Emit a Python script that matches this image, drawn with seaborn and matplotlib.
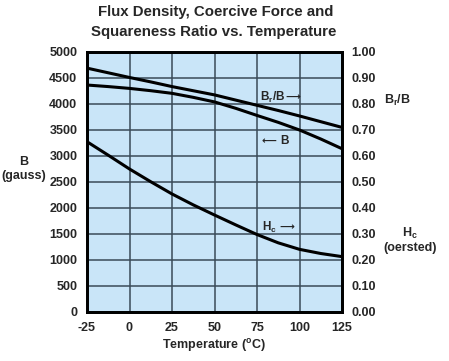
import matplotlib
matplotlib.use("Agg")
import matplotlib.pyplot as plt
import seaborn as sns
import pandas as pd

temperature = [-25, -12.5, 0, 12.5, 25, 37.5, 50, 62.5, 75, 87.5, 100, 112.5, 125]
flux_density_B = [4365, 4335, 4300, 4256, 4205, 4128, 4040, 3917, 3780, 3647, 3500, 3327, 3140]
squareness_ratio = [0.938, 0.920, 0.902, 0.885, 0.867, 0.851, 0.835, 0.815, 0.795, 0.775,
                    0.754, 0.732, 0.710]
coercive_force_Hc = [0.655, 0.603, 0.550, 0.501, 0.454, 0.412, 0.373, 0.335, 0.298, 0.266,
                     0.241, 0.225, 0.213]

left_ticks = list(range(0, 5001, 500))
right_ticks = [i / 10 for i in range(0, 11)]
x_ticks = [-25, 0, 25, 50, 75, 100, 125]

sns.set_theme(style="white")
plt.rcParams['font.family'] = ['Liberation Sans', 'DejaVu Sans']
plt.rcParams['font.weight'] = 'bold'
plt.rcParams['axes.unicode_minus'] = False
plt.rcParams['mathtext.fontset'] = 'custom'
plt.rcParams['mathtext.rm'] = 'Liberation Sans:bold'
plt.rcParams['mathtext.it'] = 'Liberation Sans:bold'
plt.rcParams['mathtext.bf'] = 'Liberation Sans:bold'
plt.rcParams['mathtext.default'] = 'rm'

W, H = 449, 361
fig = plt.figure(figsize=(W / 100, H / 100), dpi=100)
fig.patch.set_facecolor('white')
L, R, T, B = 87, 342, 52, 312
ax = fig.add_axes([L / W, 1 - B / H, (R - L) / W, (B - T) / H])
ax.set_facecolor('#c9e5f8')

df_left = pd.DataFrame({"T": temperature, "B": flux_density_B})
df_right = pd.DataFrame({
    "T": temperature * 2,
    "val": squareness_ratio + coercive_force_Hc,
    "series": ["Br/B"] * len(temperature) + ["Hc"] * len(temperature),
})

ax.set_xlim(-25, 125)
ax.set_ylim(0, 5000)
ax.set_xticks(x_ticks)
ax.set_yticks(left_ticks)
ax.grid(True, color='#3a4a58', linewidth=1.1)
ax.set_axisbelow(True)

sns.lineplot(data=df_left, x="T", y="B", ax=ax, color='black', linewidth=2.2)

ax2 = ax.twinx()
sns.lineplot(data=df_right, x="T", y="val", units="series", estimator=None,
             ax=ax2, color='black', linewidth=2.2, legend=False)
ax2.set_ylim(0, 1.0)
ax2.set_yticks(right_ticks)
ax2.set_yticklabels([f"{v:.2f}" for v in right_ticks])
ax2.grid(False)

for a in (ax, ax2):
    a.set_xlabel("")
    a.set_ylabel("")
    for s in a.spines.values():
        s.set_color('black')
        s.set_linewidth(2)

ax.tick_params(axis='both', length=0, labelsize=9)
ax.tick_params(axis='y', pad=7)
ax.tick_params(axis='x', pad=7)
ax2.tick_params(axis='y', length=0, labelsize=9, pad=7)
ax.set_xticklabels([str(v) for v in x_ticks])
for lab in ax.get_xticklabels() + ax.get_yticklabels() + ax2.get_yticklabels():
    lab.set_fontweight('bold')


def px_text(x, y, s, size=8.5, **kw):
    ax.text((x - L) / (R - L), (B - y) / (B - T), s, transform=ax.transAxes,
            fontsize=size, fontweight='bold', va='center', ha='left', **kw)


# In-plot labels
px_text(260, 97, "B$_r$/B")
px_text(285, 97, "\u27f6", size=7.5, family=['DejaVu Sans'])
px_text(262, 141, "\u27f5", size=7.5, family=['DejaVu Sans'])
px_text(280, 141, "B")
px_text(262, 227, "H$_c$")
px_text(279, 227, "\u27f6", size=7.5, family=['DejaVu Sans'])

# Titles and axis labels
fig.text(216 / W, 1 - 12 / H, "Flux Density, Coercive Force and", ha='center',
         va='center', fontsize=10.8, fontweight='bold')
fig.text(214 / W, 1 - 32 / H, "Squareness Ratio vs. Temperature", ha='center',
         va='center', fontsize=10.8, fontweight='bold')
fig.text(214 / W, 1 - 345 / H, "Temperature ($^{o}$C)", ha='center', va='center',
         fontsize=9, fontweight='bold')
fig.text(24 / W, 1 - 169 / H, "B\n(gauss)", ha='center', va='center',
         fontsize=9, fontweight='bold', multialignment='center', linespacing=1.3)
fig.text(397 / W, 1 - 100 / H, "B$_r$/B", ha='center', va='center',
         fontsize=9, fontweight='bold')
fig.text(410 / W, 1 - 240 / H, "H$_c$\n(oersted)", ha='center', va='center',
         fontsize=9, fontweight='bold', multialignment='center', linespacing=1.2)

fig.savefig("out.png", dpi=100)
